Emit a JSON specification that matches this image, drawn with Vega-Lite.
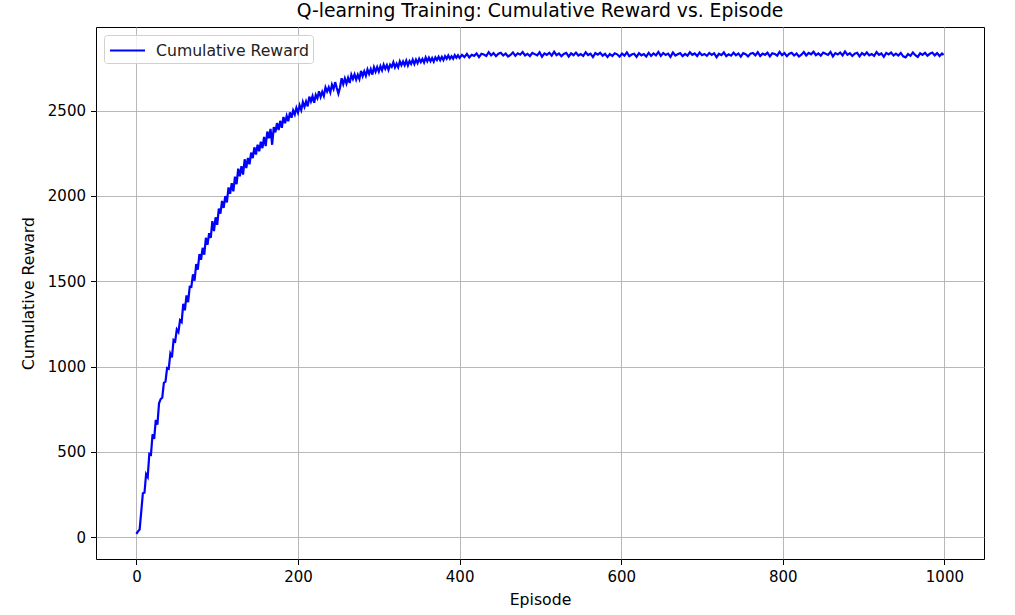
{
  "$schema": "https://vega.github.io/schema/vega-lite/v6.json",
  "width": 888,
  "height": 532,
  "autosize": {"type": "none"},
  "padding": {"left": 96, "top": 27, "right": 31, "bottom": 56},
  "background": "white",
  "title": {"text": "Q-learning Training: Cumulative Reward vs. Episode", "fontSize": 18.8, "fontWeight": "normal", "color": "black", "anchor": "middle", "offset": 6, "font": "DejaVu Sans"},
  "data": {"values": [
{"episode":0,"reward":20},{"episode":2,"reward":35},{"episode":4,"reward":46},{"episode":6,"reward":150},{"episode":8,"reward":258},
{"episode":10,"reward":261},{"episode":12,"reward":370},{"episode":14,"reward":353},{"episode":16,"reward":489},{"episode":18,"reward":484},
{"episode":20,"reward":604},{"episode":22,"reward":577},{"episode":24,"reward":689},{"episode":26,"reward":660},{"episode":28,"reward":785},
{"episode":30,"reward":810},{"episode":32,"reward":818},{"episode":34,"reward":905},{"episode":36,"reward":912},{"episode":38,"reward":992},
{"episode":40,"reward":987},{"episode":42,"reward":1076},{"episode":44,"reward":1054},{"episode":46,"reward":1156},{"episode":48,"reward":1148},
{"episode":50,"reward":1218},{"episode":52,"reward":1203},{"episode":54,"reward":1272},{"episode":56,"reward":1261},{"episode":58,"reward":1368},
{"episode":60,"reward":1330},{"episode":62,"reward":1417},{"episode":64,"reward":1378},{"episode":66,"reward":1468},{"episode":68,"reward":1467},
{"episode":70,"reward":1541},{"episode":72,"reward":1504},{"episode":74,"reward":1601},{"episode":76,"reward":1568},{"episode":78,"reward":1660},
{"episode":80,"reward":1626},{"episode":82,"reward":1696},{"episode":84,"reward":1656},{"episode":86,"reward":1755},{"episode":88,"reward":1714},
{"episode":90,"reward":1782},{"episode":92,"reward":1755},{"episode":94,"reward":1852},{"episode":96,"reward":1794},{"episode":98,"reward":1875},
{"episode":100,"reward":1831},{"episode":102,"reward":1926},{"episode":104,"reward":1896},{"episode":106,"reward":1971},{"episode":108,"reward":1930},
{"episode":110,"reward":1999},{"episode":112,"reward":1962},{"episode":114,"reward":2050},{"episode":116,"reward":2013},{"episode":118,"reward":2075},
{"episode":120,"reward":2027},{"episode":122,"reward":2113},{"episode":124,"reward":2069},{"episode":126,"reward":2160},{"episode":128,"reward":2115},
{"episode":130,"reward":2175},{"episode":132,"reward":2125},{"episode":134,"reward":2215},{"episode":136,"reward":2164},{"episode":138,"reward":2223},
{"episode":140,"reward":2186},{"episode":142,"reward":2254},{"episode":144,"reward":2222},{"episode":146,"reward":2285},{"episode":148,"reward":2243},
{"episode":150,"reward":2300},{"episode":152,"reward":2262},{"episode":154,"reward":2318},{"episode":156,"reward":2280},{"episode":158,"reward":2346},
{"episode":160,"reward":2292},{"episode":162,"reward":2377},{"episode":164,"reward":2338},{"episode":166,"reward":2393},{"episode":168,"reward":2300},
{"episode":170,"reward":2403},{"episode":172,"reward":2373},{"episode":174,"reward":2427},{"episode":176,"reward":2386},{"episode":178,"reward":2440},
{"episode":180,"reward":2399},{"episode":182,"reward":2463},{"episode":184,"reward":2426},{"episode":186,"reward":2469},{"episode":188,"reward":2438},
{"episode":190,"reward":2490},{"episode":192,"reward":2458},{"episode":194,"reward":2501},{"episode":196,"reward":2478},{"episode":198,"reward":2516},
{"episode":200,"reward":2488},{"episode":202,"reward":2531},{"episode":204,"reward":2503},{"episode":206,"reward":2550},{"episode":208,"reward":2522},
{"episode":210,"reward":2554},{"episode":212,"reward":2525},{"episode":214,"reward":2582},{"episode":216,"reward":2554},{"episode":218,"reward":2585},
{"episode":220,"reward":2546},{"episode":222,"reward":2592},{"episode":224,"reward":2573},{"episode":226,"reward":2614},{"episode":228,"reward":2580},
{"episode":230,"reward":2610},{"episode":232,"reward":2586},{"episode":234,"reward":2636},{"episode":236,"reward":2612},{"episode":238,"reward":2637},
{"episode":240,"reward":2607},{"episode":242,"reward":2652},{"episode":244,"reward":2627},{"episode":246,"reward":2667},{"episode":248,"reward":2632},
{"episode":250,"reward":2600},{"episode":252,"reward":2636},{"episode":254,"reward":2690},{"episode":256,"reward":2655},{"episode":258,"reward":2689},
{"episode":260,"reward":2658},{"episode":262,"reward":2692},{"episode":264,"reward":2662},{"episode":266,"reward":2710},{"episode":268,"reward":2685},
{"episode":270,"reward":2713},{"episode":272,"reward":2682},{"episode":274,"reward":2710},{"episode":276,"reward":2685},{"episode":278,"reward":2733},
{"episode":280,"reward":2702},{"episode":282,"reward":2730},{"episode":284,"reward":2704},{"episode":286,"reward":2741},{"episode":288,"reward":2715},
{"episode":290,"reward":2743},{"episode":292,"reward":2711},{"episode":294,"reward":2754},{"episode":296,"reward":2728},{"episode":298,"reward":2755},
{"episode":300,"reward":2729},{"episode":302,"reward":2761},{"episode":304,"reward":2736},{"episode":306,"reward":2769},{"episode":308,"reward":2745},
{"episode":310,"reward":2767},{"episode":312,"reward":2739},{"episode":314,"reward":2769},{"episode":316,"reward":2756},{"episode":318,"reward":2783},
{"episode":320,"reward":2753},{"episode":322,"reward":2775},{"episode":324,"reward":2754},{"episode":326,"reward":2789},{"episode":328,"reward":2766},
{"episode":330,"reward":2788},{"episode":332,"reward":2766},{"episode":334,"reward":2793},{"episode":336,"reward":2765},{"episode":338,"reward":2790},
{"episode":340,"reward":2774},{"episode":342,"reward":2799},{"episode":344,"reward":2773},{"episode":346,"reward":2799},{"episode":348,"reward":2778},
{"episode":350,"reward":2804},{"episode":352,"reward":2785},{"episode":354,"reward":2803},{"episode":356,"reward":2782},{"episode":358,"reward":2812},
{"episode":360,"reward":2789},{"episode":362,"reward":2810},{"episode":364,"reward":2789},{"episode":366,"reward":2808},{"episode":368,"reward":2787},
{"episode":370,"reward":2812},{"episode":372,"reward":2797},{"episode":374,"reward":2816},{"episode":376,"reward":2796},{"episode":378,"reward":2815},
{"episode":380,"reward":2796},{"episode":382,"reward":2819},{"episode":384,"reward":2804},{"episode":386,"reward":2823},{"episode":388,"reward":2804},
{"episode":390,"reward":2819},{"episode":392,"reward":2804},{"episode":394,"reward":2825},{"episode":396,"reward":2810},{"episode":398,"reward":2824},
{"episode":400,"reward":2809},
{"episode":403,"reward":2827},{"episode":406,"reward":2814},{"episode":409,"reward":2833},{"episode":412,"reward":2812},{"episode":415,"reward":2827},
{"episode":418,"reward":2821},{"episode":421,"reward":2835},{"episode":424,"reward":2814},{"episode":427,"reward":2833},{"episode":430,"reward":2829},
{"episode":433,"reward":2820},{"episode":436,"reward":2843},{"episode":439,"reward":2824},{"episode":442,"reward":2837},{"episode":445,"reward":2819},
{"episode":448,"reward":2833},{"episode":451,"reward":2839},{"episode":454,"reward":2823},{"episode":457,"reward":2835},{"episode":460,"reward":2817},
{"episode":463,"reward":2826},{"episode":466,"reward":2841},{"episode":469,"reward":2821},{"episode":472,"reward":2836},{"episode":475,"reward":2828},
{"episode":478,"reward":2843},{"episode":481,"reward":2823},{"episode":484,"reward":2833},{"episode":487,"reward":2820},{"episode":490,"reward":2838},
{"episode":493,"reward":2831},{"episode":496,"reward":2824},{"episode":499,"reward":2842},{"episode":502,"reward":2816},{"episode":505,"reward":2835},
{"episode":508,"reward":2827},{"episode":511,"reward":2839},{"episode":514,"reward":2822},{"episode":517,"reward":2845},{"episode":520,"reward":2825},
{"episode":523,"reward":2835},{"episode":526,"reward":2819},{"episode":529,"reward":2832},{"episode":532,"reward":2838},{"episode":535,"reward":2817},
{"episode":538,"reward":2836},{"episode":541,"reward":2825},{"episode":544,"reward":2840},{"episode":547,"reward":2823},{"episode":550,"reward":2831},
{"episode":553,"reward":2820},{"episode":556,"reward":2842},{"episode":559,"reward":2826},{"episode":562,"reward":2834},{"episode":565,"reward":2814},
{"episode":568,"reward":2837},{"episode":571,"reward":2828},{"episode":574,"reward":2839},{"episode":577,"reward":2822},{"episode":580,"reward":2833},
{"episode":583,"reward":2814},{"episode":586,"reward":2832},{"episode":589,"reward":2820},{"episode":592,"reward":2836},{"episode":595,"reward":2830},
{"episode":598,"reward":2816},{"episode":601,"reward":2834},{"episode":604,"reward":2822},{"episode":607,"reward":2841},{"episode":610,"reward":2819},
{"episode":613,"reward":2829},{"episode":616,"reward":2833},{"episode":619,"reward":2815},{"episode":622,"reward":2837},{"episode":625,"reward":2824},
{"episode":628,"reward":2831},{"episode":631,"reward":2817},{"episode":634,"reward":2839},{"episode":637,"reward":2821},{"episode":640,"reward":2835},
{"episode":643,"reward":2824},{"episode":646,"reward":2844},{"episode":649,"reward":2821},{"episode":652,"reward":2838},{"episode":655,"reward":2826},
{"episode":658,"reward":2834},{"episode":661,"reward":2815},{"episode":664,"reward":2841},{"episode":667,"reward":2823},{"episode":670,"reward":2830},
{"episode":673,"reward":2837},{"episode":676,"reward":2819},{"episode":679,"reward":2832},{"episode":682,"reward":2822},{"episode":685,"reward":2842},
{"episode":688,"reward":2827},{"episode":691,"reward":2835},{"episode":694,"reward":2820},{"episode":697,"reward":2840},{"episode":700,"reward":2825},
{"episode":703,"reward":2832},{"episode":706,"reward":2821},{"episode":709,"reward":2838},{"episode":712,"reward":2827},{"episode":715,"reward":2836},
{"episode":718,"reward":2813},{"episode":721,"reward":2833},{"episode":724,"reward":2825},{"episode":727,"reward":2841},{"episode":730,"reward":2819},
{"episode":733,"reward":2830},{"episode":736,"reward":2822},{"episode":739,"reward":2839},{"episode":742,"reward":2824},{"episode":745,"reward":2835},
{"episode":748,"reward":2816},{"episode":751,"reward":2837},{"episode":754,"reward":2831},{"episode":757,"reward":2818},{"episode":760,"reward":2834},
{"episode":763,"reward":2838},{"episode":766,"reward":2824},{"episode":769,"reward":2842},{"episode":772,"reward":2820},{"episode":775,"reward":2834},
{"episode":778,"reward":2827},{"episode":781,"reward":2840},{"episode":784,"reward":2818},{"episode":787,"reward":2836},{"episode":790,"reward":2832},
{"episode":793,"reward":2822},{"episode":796,"reward":2844},{"episode":799,"reward":2825},{"episode":802,"reward":2837},{"episode":805,"reward":2819},
{"episode":808,"reward":2833},{"episode":811,"reward":2839},{"episode":814,"reward":2823},{"episode":817,"reward":2835},{"episode":820,"reward":2817},
{"episode":823,"reward":2828},{"episode":826,"reward":2843},{"episode":829,"reward":2823},{"episode":832,"reward":2838},{"episode":835,"reward":2830},
{"episode":838,"reward":2845},{"episode":841,"reward":2825},{"episode":844,"reward":2835},{"episode":847,"reward":2822},{"episode":850,"reward":2840},
{"episode":853,"reward":2833},{"episode":856,"reward":2826},{"episode":859,"reward":2844},{"episode":862,"reward":2818},{"episode":865,"reward":2837},
{"episode":868,"reward":2829},{"episode":871,"reward":2841},{"episode":874,"reward":2824},{"episode":877,"reward":2847},{"episode":880,"reward":2827},
{"episode":883,"reward":2836},{"episode":886,"reward":2820},{"episode":889,"reward":2833},{"episode":892,"reward":2839},{"episode":895,"reward":2818},
{"episode":898,"reward":2837},{"episode":901,"reward":2826},{"episode":904,"reward":2841},{"episode":907,"reward":2824},{"episode":910,"reward":2832},
{"episode":913,"reward":2821},{"episode":916,"reward":2843},{"episode":919,"reward":2827},{"episode":922,"reward":2835},{"episode":925,"reward":2815},
{"episode":928,"reward":2838},{"episode":931,"reward":2829},{"episode":934,"reward":2840},{"episode":937,"reward":2823},{"episode":940,"reward":2834},
{"episode":943,"reward":2823},{"episode":946,"reward":2838},{"episode":949,"reward":2818},{"episode":952,"reward":2812},{"episode":955,"reward":2831},
{"episode":958,"reward":2821},{"episode":961,"reward":2841},{"episode":964,"reward":2825},{"episode":967,"reward":2815},{"episode":970,"reward":2836},
{"episode":973,"reward":2827},{"episode":976,"reward":2839},{"episode":979,"reward":2822},{"episode":982,"reward":2833},{"episode":985,"reward":2840},
{"episode":988,"reward":2824},{"episode":991,"reward":2837},{"episode":994,"reward":2820},{"episode":997,"reward":2835},{"episode":999,"reward":2826}
  ]},
  "mark": {"type": "line", "strokeWidth": 2.2, "interpolate": "linear"},
  "encoding": {
    "x": {"field": "episode", "type": "quantitative", "title": "Episode",
      "scale": {"domain": [-50, 1049], "nice": false, "zero": false},
      "axis": {"values": [0, 200, 400, 600, 800, 1000], "format": "d", "titlePadding": 8}},
    "y": {"field": "reward", "type": "quantitative", "title": "Cumulative Reward",
      "scale": {"domain": [-127, 2990], "nice": false, "zero": false},
      "axis": {"values": [0, 500, 1000, 1500, 2000, 2500], "format": "d", "titlePadding": 11}},
    "color": {"datum": "Cumulative Reward", "type": "nominal",
      "scale": {"range": ["#0000ff"]},
      "legend": {"title": null, "orient": "top-left", "offset": 8}}
  },
  "config": {
    "font": "DejaVu Sans",
    "view": {"stroke": "black", "strokeWidth": 1},
    "axis": {
      "domain": false,
      "grid": true,
      "gridColor": "#b0b0b0",
      "gridWidth": 0.9,
      "tickColor": "black",
      "tickSize": 5.5,
      "tickWidth": 1,
      "labelFontSize": 15,
      "labelColor": "black",
      "labelPadding": 5,
      "titleFontSize": 15.7,
      "titleFontWeight": "normal",
      "titleColor": "black"
    },
    "legend": {
      "symbolType": "M-1.75,0H1.75",
      "symbolSize": 400,
      "symbolOffset": 8,
      "symbolStrokeWidth": 2.2,
      "labelFontSize": 15.7,
      "labelColor": "#222222",
      "labelOffset": 17,
      "padding": 4,
      "strokeColor": "#d0d0d0",
      "fillColor": "rgba(255,255,255,0.8)",
      "cornerRadius": 3
    }
  }
}
